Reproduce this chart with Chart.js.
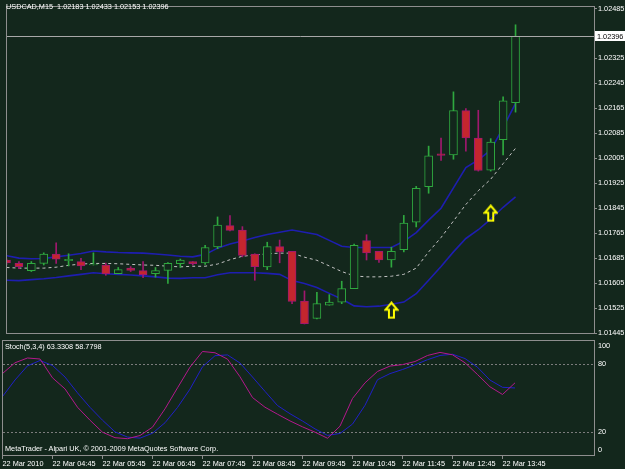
<!DOCTYPE html>
<html>
<head>
<meta charset="utf-8">
<script src="https://cdn.jsdelivr.net/npm/chart.js@4/dist/chart.umd.min.js"></script>
<style>
  body { margin: 0; width: 625px; height: 469px; overflow: hidden; position: relative; background: #13271c; font-family: "Liberation Sans", Arial, sans-serif; }
  canvas { position: absolute; left: 0; }
  #main { top: 0; }
  #stoch { top: 339px; }
  .txt { position: absolute; color: #fff; font-size: 7.3px; line-height: 8px; white-space: pre; }
</style>
</head>
<body>
<canvas id="main" width="625" height="340"></canvas>
<canvas id="stoch" width="625" height="130"></canvas>
<div class="txt" style="left:6px;top:3px">USDCAD,M15  1.02183 1.02433 1.02153 1.02396</div>
<div class="txt" style="left:5px;top:343px">Stoch(5,3,4) 63.3308 58.7798</div>
<div class="txt" style="left:5px;top:445px">MetaTrader - Alpari UK, © 2001-2009 MetaQuotes Software Corp.</div>
<script>
// Velas M15
const open  = [1.01679, 1.01668, 1.01645, 1.01668, 1.01698, 1.01677, 1.01674, 1.01663, 1.01663, 1.01635, 1.01653, 1.01645, 1.01635, 1.01646, 1.01667, 1.01674, 1.01670, 1.01721, 1.01789, 1.01775, 1.01698, 1.01657, 1.01722, 1.01707, 1.01547, 1.01492, 1.01534, 1.01544, 1.01587, 1.01741, 1.01707, 1.01679, 1.01712, 1.01800, 1.01914, 1.02019, 1.02016, 1.02158, 1.02070, 1.01967, 1.02065, 1.02183];
const high  = [1.01683, 1.01674, 1.01674, 1.01702, 1.01734, 1.01699, 1.01684, 1.01702, 1.01669, 1.01655, 1.01658, 1.01674, 1.01655, 1.01671, 1.01682, 1.01674, 1.01726, 1.01817, 1.01821, 1.01786, 1.01699, 1.01736, 1.01743, 1.01707, 1.01580, 1.01575, 1.01568, 1.01611, 1.01730, 1.01760, 1.01707, 1.01720, 1.01822, 1.01915, 1.02044, 1.02070, 1.02218, 1.02164, 1.02159, 1.02068, 1.02202, 1.02433];
const low   = [1.01664, 1.01651, 1.01642, 1.01663, 1.01668, 1.01660, 1.01648, 1.01663, 1.01630, 1.01635, 1.01642, 1.01622, 1.01624, 1.01604, 1.01655, 1.01663, 1.01665, 1.01715, 1.01772, 1.01689, 1.01614, 1.01648, 1.01670, 1.01539, 1.01474, 1.01490, 1.01534, 1.01539, 1.01587, 1.01679, 1.01671, 1.01656, 1.01705, 1.01785, 1.01893, 1.01998, 1.02002, 1.02028, 1.01964, 1.01964, 1.02016, 1.02153];
const close = [1.01670, 1.01658, 1.01668, 1.01698, 1.01682, 1.01681, 1.01660, 1.01666, 1.01635, 1.01648, 1.01646, 1.01632, 1.01645, 1.01668, 1.01679, 1.01667, 1.01719, 1.01791, 1.01774, 1.01694, 1.01658, 1.01722, 1.01705, 1.01546, 1.01475, 1.01539, 1.01544, 1.01587, 1.01726, 1.01702, 1.01679, 1.01707, 1.01797, 1.01909, 1.02013, 1.02014, 1.02158, 1.02070, 1.01966, 1.02057, 1.02189, 1.02396];

// Bandas de Bollinger
const bandUpper = [1.01693, 1.01685, 1.01683, 1.01684, 1.01689, 1.01694, 1.01700, 1.01708, 1.01705, 1.01703, 1.01702, 1.01701, 1.01698, 1.01695, 1.01691, 1.01689, 1.01697, 1.01717, 1.01730, 1.01740, 1.01751, 1.01761, 1.01768, 1.01775, 1.01768, 1.01761, 1.01742, 1.01723, 1.01719, 1.01719, 1.01719, 1.01719, 1.01739, 1.01767, 1.01807, 1.01845, 1.01910, 1.01975, 1.02000, 1.02031, 1.02103, 1.02181];
const bandMid   = [1.01655, 1.01653, 1.01653, 1.01653, 1.01656, 1.01662, 1.01666, 1.01668, 1.01668, 1.01667, 1.01665, 1.01663, 1.01662, 1.01659, 1.01657, 1.01659, 1.01659, 1.01666, 1.01680, 1.01691, 1.01695, 1.01699, 1.01701, 1.01701, 1.01688, 1.01678, 1.01660, 1.01642, 1.01628, 1.01625, 1.01625, 1.01627, 1.01633, 1.01653, 1.01705, 1.01751, 1.01804, 1.01857, 1.01901, 1.01938, 1.01988, 1.02037];
const bandLower = [1.01614, 1.01613, 1.01616, 1.01619, 1.01623, 1.01628, 1.01633, 1.01638, 1.01635, 1.01633, 1.01631, 1.01628, 1.01625, 1.01621, 1.01620, 1.01622, 1.01622, 1.01632, 1.01638, 1.01638, 1.01638, 1.01636, 1.01633, 1.01613, 1.01604, 1.01591, 1.01572, 1.01554, 1.01532, 1.01529, 1.01531, 1.01537, 1.01544, 1.01571, 1.01614, 1.01658, 1.01705, 1.01748, 1.01776, 1.01810, 1.01848, 1.01881];

// Estocástico (5,3,4)
const stochMain   = [71.5, 80.9, 85.1, 84.2, 67.7, 58.0, 41.9, 30.5, 20.0, 15.2, 14.3, 17.1, 24.4, 40.5, 58.9, 77.1, 90.8, 89.7, 84.1, 68.6, 50.4, 41.9, 35.8, 29.9, 24.7, 20.0, 14.7, 25.3, 49.6, 63.3, 73.3, 78.0, 79.3, 82.0, 87.3, 90.0, 87.9, 80.9, 70.6, 59.8, 53.1, 63.3];
const stochSignal = [51.3, 65.8, 78.2, 82.9, 78.5, 68.4, 54.5, 41.8, 30.5, 20.3, 15.7, 14.8, 19.1, 28.3, 41.7, 57.8, 77.4, 87.1, 87.8, 80.7, 68.4, 55.8, 43.4, 36.2, 29.8, 22.9, 17.2, 18.9, 27.1, 43.6, 66.0, 71.4, 75.0, 79.1, 83.6, 87.3, 88.4, 84.6, 77.0, 65.7, 59.4, 58.8];
const stochLevels = [20, 80];
const stochLabels = [100, 80, 20, 0];

// Flechas amarillas
const arrowBars   = [31, 39];
const arrowPrices = [1.01518, 1.01829];

// Ejes
const priceTicks = [1.02485, 1.02405, 1.02325, 1.02245, 1.02165, 1.02085, 1.02005, 1.01925, 1.01845, 1.01765, 1.01685, 1.01605, 1.01525, 1.01445];
const timeBars   = [0, 4, 8, 12, 16, 20, 24, 28, 32, 36, 40];
const timeLabels = ['22 Mar 2010', '22 Mar 04:45', '22 Mar 05:45', '22 Mar 06:45', '22 Mar 07:45', '22 Mar 08:45', '22 Mar 09:45', '22 Mar 10:45', '22 Mar 11:45', '22 Mar 12:45', '22 Mar 13:45'];

const BG = '#13271c';
const FRAME = '#8e8e8e';
const BULL = '#2fa83f';
const BEAR = '#c4262e';
const BEAR_EDGE = '#a0186e';
const FONT = { family: '"Liberation Sans", Arial, sans-serif', size: 7.3 };
const CSS_FONT = '7.3px "Liberation Sans", Arial, sans-serif';
const X_MIN = 0.04, X_MAX = 47.32;

const idx = open.map((_, i) => i);
const bull = i => close[i] >= open[i];
const serie = arr => arr.map((v, i) => ({ x: i, y: v }));

// Flecha hueca hacia arriba
function crearFlecha() {
  const c = document.createElement('canvas');
  c.width = 15; c.height = 18;
  const g = c.getContext('2d');
  g.strokeStyle = '#ffff00';
  g.lineWidth = 2;
  g.beginPath();
  g.moveTo(7.5, 1.5);
  g.lineTo(13.5, 8.5);
  g.lineTo(10, 8.5);
  g.lineTo(10, 16.5);
  g.lineTo(5, 16.5);
  g.lineTo(5, 8.5);
  g.lineTo(1.5, 8.5);
  g.closePath();
  g.stroke();
  return c;
}

// Marco gris alrededor del área del gráfico
function marco(chart) {
  const { ctx, chartArea: a } = chart;
  ctx.save();
  ctx.strokeStyle = FRAME;
  ctx.lineWidth = 1;
  ctx.strokeRect(a.left - 0.5, a.top - 0.5, a.right - a.left + 1, a.bottom - a.top + 1);
  ctx.restore();
}

const mainPlugin = {
  id: 'mainExtras',
  afterDatasetsDraw(chart) {
    // Línea del último precio
    const { ctx, chartArea: a } = chart;
    const y = Math.round(chart.scales.y.getPixelForValue(close[close.length - 1])) + 0.5;
    ctx.save();
    ctx.strokeStyle = '#a8a8a8';
    ctx.beginPath();
    ctx.moveTo(a.left, y);
    ctx.lineTo(a.right, y);
    ctx.stroke();
    ctx.restore();
  },
  afterDraw(chart) {
    marco(chart);
    const { ctx, chartArea: a } = chart;
    const last = close[close.length - 1];
    const y = Math.round(chart.scales.y.getPixelForValue(last));
    ctx.save();
    ctx.fillStyle = '#ffffff';
    ctx.fillRect(a.right + 1, y - 5, 30, 10);
    ctx.fillStyle = '#000000';
    ctx.font = CSS_FONT;
    ctx.textBaseline = 'middle';
    ctx.fillText(last.toFixed(5), a.right + 3, y + 0.5);
    ctx.restore();
  }
};

const stochPlugin = {
  id: 'stochExtras',
  beforeDatasetsDraw(chart) {
    const { ctx, chartArea: a } = chart;
    ctx.save();
    ctx.strokeStyle = '#7c7c7c';
    ctx.setLineDash([2, 2]);
    stochLevels.forEach(v => {
      const y = Math.round(chart.scales.y.getPixelForValue(v)) + 0.5;
      ctx.beginPath();
      ctx.moveTo(a.left, y);
      ctx.lineTo(a.right, y);
      ctx.stroke();
    });
    ctx.restore();
  },
  afterDraw(chart) {
    marco(chart);
    const { ctx, chartArea: a } = chart;
    ctx.save();
    ctx.fillStyle = '#ffffff';
    ctx.font = CSS_FONT;
    ctx.textBaseline = 'middle';
    stochLabels.forEach(v => {
      let y = chart.scales.y.getPixelForValue(v);
      y = Math.min(Math.max(y, a.top + 5), a.bottom - 5);
      ctx.fillText(String(v), a.right + 4, y);
    });
    ctx.restore();
  }
};

// --- Gráfico de precios ---
new Chart(document.getElementById('main'), {
  type: 'bar',
  data: {
    datasets: [
      {
        type: 'scatter',
        data: arrowBars.map((b, i) => ({ x: b, y: arrowPrices[i] })),
        pointStyle: crearFlecha(),
        pointRadius: 6,
        order: -1
      },
      {
        label: 'cuerpo',
        data: idx.map(i => ({ x: i, y: [open[i], close[i]] })),
        backgroundColor: idx.map(i => bull(i) ? BG : BEAR),
        borderColor: idx.map(i => bull(i) ? BULL : BEAR_EDGE),
        borderWidth: 1,
        borderSkipped: false,
        barThickness: 8,
        grouped: false,
        order: 0
      },
      {
        label: 'mecha',
        data: idx.map(i => ({ x: i, y: [low[i], high[i]] })),
        backgroundColor: idx.map(i => bull(i) ? BULL : BEAR_EDGE),
        borderWidth: 0,
        barThickness: 1,
        grouped: false,
        order: 1
      },
      { type: 'line', data: serie(bandUpper), borderColor: '#1e1eb0', borderWidth: 1.6, pointRadius: 0, order: 2 },
      { type: 'line', data: serie(bandLower), borderColor: '#1e1eb0', borderWidth: 1.6, pointRadius: 0, order: 2 },
      { type: 'line', data: serie(bandMid), borderColor: '#c4c4c4', borderWidth: 1, borderDash: [3, 3], pointRadius: 0, order: 2 }
    ]
  },
  options: {
    responsive: false,
    animation: false,
    devicePixelRatio: 1,
    layout: { padding: { left: 3, top: 2, right: 0, bottom: 2 } },
    plugins: { legend: { display: false }, tooltip: { enabled: false } },
    scales: {
      x: { type: 'linear', min: X_MIN, max: X_MAX, offset: false, display: false },
      y: {
        type: 'linear',
        position: 'right',
        min: 1.01445,
        max: 1.0249,
        afterBuildTicks: s => { s.ticks = priceTicks.map(v => ({ value: v })); },
        afterFit: s => { s.width = 31; s.paddingTop = 0; s.paddingBottom = 0; },
        grid: { drawOnChartArea: false, drawTicks: true, tickLength: 3, tickColor: FRAME },
        border: { display: false },
        ticks: { color: '#ffffff', font: FONT, padding: 1, callback: v => v.toFixed(5) }
      }
    }
  },
  plugins: [mainPlugin]
});

// --- Estocástico ---
new Chart(document.getElementById('stoch'), {
  type: 'line',
  data: {
    datasets: [
      { data: serie(stochMain), borderColor: '#b4188c', borderWidth: 1, pointRadius: 0 },
      { data: serie(stochSignal), borderColor: '#2020c8', borderWidth: 1, pointRadius: 0 }
    ]
  },
  options: {
    responsive: false,
    animation: false,
    devicePixelRatio: 1,
    layout: { padding: { left: 3, top: 2, right: 0, bottom: 0 } },
    plugins: { legend: { display: false }, tooltip: { enabled: false } },
    scales: {
      x: {
        type: 'linear',
        min: X_MIN,
        max: X_MAX,
        afterBuildTicks: s => { s.ticks = timeBars.map(v => ({ value: v })); },
        afterFit: s => { s.height = 14; s.paddingLeft = 0; s.paddingRight = 0; },
        grid: { drawOnChartArea: false, drawTicks: true, tickLength: 4, tickColor: FRAME },
        border: { display: false },
        ticks: { color: '#ffffff', font: FONT, padding: 1, align: 'start', autoSkip: false, maxRotation: 0, callback: (v, i) => timeLabels[i] }
      },
      y: {
        position: 'right',
        min: 0,
        max: 100,
        afterFit: s => { s.width = 31; s.paddingTop = 0; s.paddingBottom = 0; },
        grid: { display: false },
        border: { display: false },
        ticks: { display: false }
      }
    }
  },
  plugins: [stochPlugin]
});
</script>
</body>
</html>
